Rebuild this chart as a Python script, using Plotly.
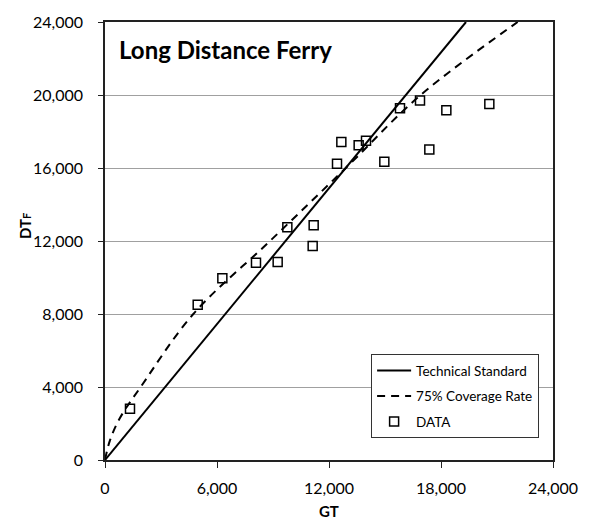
import plotly.graph_objects as go

# Data points (GT, DTF)
data_gt = [1339, 4966, 6286, 8089, 9250, 11125, 9768, 11179, 12429, 12661,
           13589, 13982, 14964, 15804, 16875, 17375, 18286, 20589]
data_dtf = [2806, 8508, 9953, 10805, 10843, 11728, 12760, 12868, 16235, 17430,
            17250, 17500, 16344, 19276, 19693, 17012, 19167, 19510]

# Technical standard line
tech_gt = [0, 19339]
tech_dtf = [0, 24000]

# 75% coverage rate curve
cov_gt = [0, 270, 800, 1911, 4732, 8839, 12900, 16911, 22107]
cov_dtf = [0, 1086, 2300, 4000, 8000, 12000, 16000, 20000, 24000]

x_ticks = [0, 6000, 12000, 18000, 24000]
y_ticks = [0, 4000, 8000, 12000, 16000, 20000, 24000]

FONT = "Lato"

fig = go.Figure()
fig.add_trace(go.Scatter(x=tech_gt, y=tech_dtf, mode="lines", name="Technical Standard",
                         line=dict(color="black", width=2), legendgroup="a"))
fig.add_trace(go.Scatter(x=cov_gt, y=cov_dtf, mode="lines", name="75% Coverage Rate",
                         line=dict(color="black", width=2, dash="8px,6px", shape="spline"),
                         legendgroup="b"))
fig.add_trace(go.Scatter(x=data_gt, y=data_dtf, mode="markers", name="DATA",
                         marker=dict(symbol="square-open", size=9, color="black",
                                     line=dict(width=1.5, color="black")),
                         legendgroup="c"))

fig.update_layout(
    width=590, height=521,
    margin=dict(l=105, r=37, t=18, b=61),
    paper_bgcolor="white", plot_bgcolor="white",
    font=dict(family=FONT, color="black"),
    showlegend=True,
    legend=dict(x=0.969, y=0.05, xanchor="right", yanchor="bottom",
                bgcolor="white", bordercolor="#333333", borderwidth=1,
                font=dict(size=13.5, family=FONT), itemwidth=34,
                tracegroupgap=5),
    xaxis=dict(range=[0, 24000], tickvals=x_ticks, tickformat=",d",
               showgrid=False, zeroline=False,
               showline=True, linecolor="#222222", linewidth=1.5, mirror=True,
               ticks="outside", ticklen=6, tickcolor="#222222", tickwidth=1,
               tickfont=dict(size=16, family=FONT), ticklabelstandoff=7),
    yaxis=dict(range=[0, 24000], tickvals=y_ticks, tickformat=",d",
               showgrid=True, gridcolor="#a0a0a0", gridwidth=1, zeroline=False,
               showline=True, linecolor="#222222", linewidth=1.5, mirror=True,
               ticks="outside", ticklen=5, tickcolor="#222222", tickwidth=1,
               tickfont=dict(size=16, family=FONT), ticklabelstandoff=12),
    annotations=[
        dict(text="<b>Long Distance Ferry</b>", xref="paper", yref="paper",
             x=0.0268, y=0.937, xanchor="left", yanchor="middle", showarrow=False,
             font=dict(size=24, family=FONT, color="black")),
        dict(text="<b>GT</b>", xref="paper", yref="paper", x=0.5, y=-0.117,
             xanchor="center", yanchor="middle", showarrow=False,
             font=dict(size=15, family=FONT, color="black")),
        dict(text="<b>DT<span style='font-size:11px'>F</span></b>", xref="paper", yref="paper",
             x=-0.179, y=0.534, xanchor="center", yanchor="middle", showarrow=False,
             textangle=-90, font=dict(size=15, family=FONT, color="black")),
    ],
)

fig.write_html("out.html")
